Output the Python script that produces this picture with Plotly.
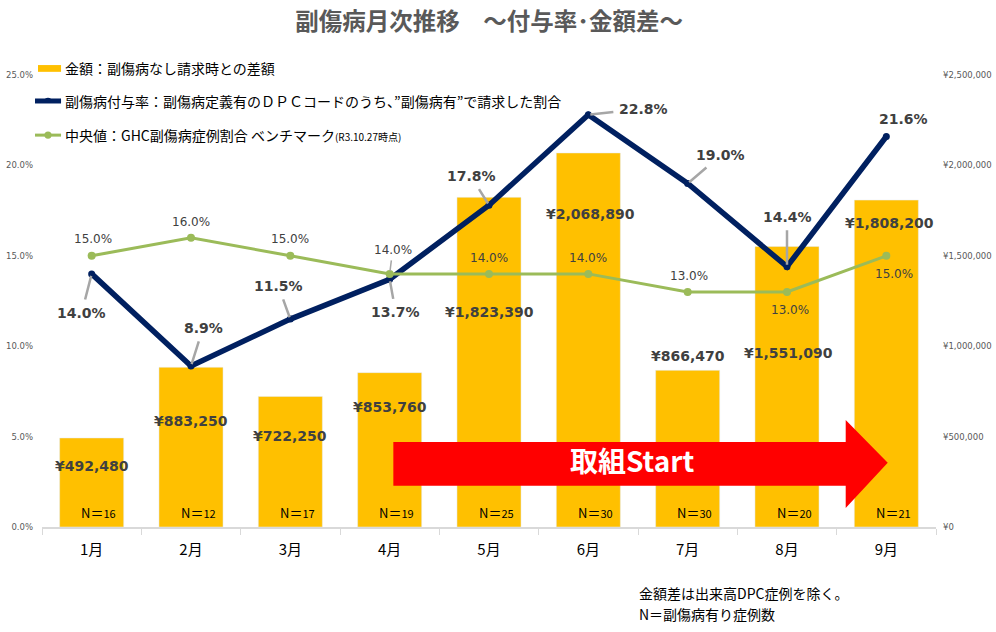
import plotly.graph_objects as go

months = ["1月", "2月", "3月", "4月", "5月", "6月", "7月", "8月", "9月"]
amount_diff = [492480, 883250, 722250, 853760, 1823390, 2068890, 866470, 1551090, 1808200]
rate = [14.0, 8.9, 11.5, 13.7, 17.8, 22.8, 19.0, 14.4, 21.6]
benchmark = [15.0, 16.0, 15.0, 14.0, 14.0, 14.0, 13.0, 13.0, 15.0]
n_cases = [16, 12, 17, 19, 25, 30, 30, 20, 21]

legend_names = [
    "金額：副傷病なし請求時との差額",
    "副傷病付与率：副傷病定義有のＤＰＣコードのうち、”副傷病有”で請求した割合",
    "中央値：GHC副傷病症例割合 ベンチマーク<span style='font-size:10px'>(R3.10.27時点)</span>",
]

# label offsets (pixels) for readability, like the original chart
rate_off = [(-10, 39), (12, -38), (-12, -33), (6, 33), (-18, -29), (55, -6), (33, -28), (0, -50), (17, -17)]
rate_arrow = [True, True, True, True, True, True, True, True, False]
bench_off = [(1, -17), (0, -16), (0, -17), (3, -24), (0, -16), (0, -16), (1, -16), (3, 18), (8, 18)]
bench_arrow = [False, False, False, True, False, False, False, False, False]
bar_lab_shift = [-28, -54, -40, -34, -115, -61, 14, -106, -23]
bar_lab_x = [0, 0, 0, 0, 0.01, 0.02, 0, 0.02, 0.03]

NUMFONT = "DejaVu Sans"
JPFONT = "Noto Sans CJK JP"
LABEL = "#404040"
BAR = "#FFC000"
NAVY = "#002060"
GREEN = "#9BBB59"

fig = go.Figure()
fig.add_trace(go.Bar(x=months, y=amount_diff, yaxis="y", marker_color=BAR,
                     name=legend_names[0], showlegend=False))
fig.add_trace(go.Scatter(x=months, y=rate, yaxis="y2", mode="lines+markers",
                         line=dict(color=NAVY, width=5.5), marker=dict(size=7, color=NAVY),
                         name=legend_names[1], showlegend=False))
fig.add_trace(go.Scatter(x=months, y=benchmark, yaxis="y2", mode="lines+markers",
                         line=dict(color=GREEN, width=3), marker=dict(size=8, color=GREEN),
                         name=legend_names[2], showlegend=False))

ann = []
for i, m in enumerate(months):
    ax, ay = rate_off[i]
    ann.append(dict(x=m, y=rate[i], xref="x", yref="y2", text=f"<b>{rate[i]:.1f}%</b>",
                    showarrow=True, arrowhead=0, arrowwidth=2.5,
                    arrowcolor="#A6A6A6" if rate_arrow[i] else "rgba(0,0,0,0)",
                    ax=ax, ay=ay, standoff=2, startstandoff=4,
                    font=dict(family=NUMFONT, size=14, color=LABEL)))
    bx, by = bench_off[i]
    ann.append(dict(x=m, y=benchmark[i], xref="x", yref="y2", text=f"{benchmark[i]:.1f}%",
                    showarrow=True, arrowhead=0, arrowwidth=1.5,
                    arrowcolor="#A6A6A6" if bench_arrow[i] else "rgba(0,0,0,0)",
                    ax=bx, ay=by, standoff=3, startstandoff=2,
                    font=dict(family=NUMFONT, size=12, color=LABEL)))
    ann.append(dict(x=i + bar_lab_x[i], y=amount_diff[i], xref="x", yref="y",
                    text=f"<b>¥{amount_diff[i]:,}</b>", showarrow=False, yshift=bar_lab_shift[i],
                    font=dict(family=NUMFONT, size=14, color=LABEL)))
    ann.append(dict(x=i, y=0, xref="x", yref="y", yanchor="bottom", yshift=3, xshift=7,
                    text=f"<span style='font-size:13px'>N＝</span>{n_cases[i]}", showarrow=False,
                    font=dict(family=JPFONT, size=11, color="#000000")))

# legend (drawn manually to match the original's wide symbols and spacing)
leg_y = [1.0155, 0.9425, 0.867]
for name, ly in zip(legend_names, leg_y):
    ann.append(dict(x=0.0235, y=ly, xref="paper", yref="paper", xanchor="left", yanchor="middle",
                    text=name, showarrow=False, font=dict(family=JPFONT, size=14, color="#000000")))

ann.append(dict(x=0.66, y=0.142, xref="paper", yref="paper", text="<b>取組Start</b>", yshift=-19,
                showarrow=False, font=dict(family=JPFONT, size=28, color="white")))
ann.append(dict(x=0.666, y=-0.152, xref="paper", yref="paper", xanchor="left", yshift=-9,
                text="金額差は出来高DPC症例を除く。", showarrow=False,
                font=dict(family=JPFONT, size=14, color="#000000")))
ann.append(dict(x=0.666, y=-0.197, xref="paper", yref="paper", xanchor="left", yshift=-10,
                text="N＝副傷病有り症例数", showarrow=False,
                font=dict(family=JPFONT, size=14, color="#000000")))

arrow_path = ("M 0.393 0.188 L 0.899 0.188 L 0.899 0.237 L 0.946 0.142 "
              "L 0.899 0.042 L 0.899 0.091 L 0.393 0.091 Z")

shapes = [
    dict(type="path", path=arrow_path, xref="paper", yref="paper",
         fillcolor="#FF0000", line=dict(width=0), layer="above"),
    dict(type="rect", x0=-0.0045, x1=0.0213, y0=1.007, y1=1.022, xref="paper", yref="paper",
         fillcolor=BAR, line=dict(width=0)),
    dict(type="line", x0=-0.0078, x1=0.0213, y0=leg_y[1], y1=leg_y[1], xref="paper", yref="paper",
         line=dict(color=NAVY, width=5)),
    dict(type="circle", x0=0.0067 - 0.0035, x1=0.0067 + 0.0035, y0=leg_y[1] - 0.004, y1=leg_y[1] + 0.007,
         xref="paper", yref="paper", fillcolor=NAVY, line=dict(width=0)),
    dict(type="line", x0=-0.0078, x1=0.0213, y0=leg_y[2], y1=leg_y[2], xref="paper", yref="paper",
         line=dict(color=GREEN, width=3)),
    dict(type="circle", x0=0.0067 - 0.004, x1=0.0067 + 0.004, y0=leg_y[2] - 0.008, y1=leg_y[2] + 0.008,
         xref="paper", yref="paper", fillcolor=GREEN, line=dict(width=0)),
]

fig.update_layout(
    width=996, height=632,
    margin=dict(l=42, r=60, t=75, b=105),
    paper_bgcolor="white", plot_bgcolor="white",
    showlegend=False,
    title=dict(text="<b>副傷病月次推移　～付与率･金額差～</b>", x=0.491, xanchor="center",
               y=0.965, yanchor="middle",
               font=dict(family=JPFONT, size=23.5, color="#595959")),
    bargap=0.355,
    xaxis=dict(type="category", showline=True, linecolor="#D9D9D9", linewidth=1.5,
               ticks="outside", tickson="boundaries", ticklen=6, tickcolor="#D9D9D9",
               tickfont=dict(family=JPFONT, size=15, color="#000000"), showgrid=False,
               range=[-0.5, 8.5], ticklabelstandoff=8, automargin=False),
    yaxis=dict(side="right", range=[0, 2500000], dtick=500000, tickprefix="¥", tickformat=",",
               showgrid=False, zeroline=False, ticks="", ticklabelstandoff=6, automargin=False,
               tickfont=dict(family=NUMFONT, size=8.5, color="#595959")),
    yaxis2=dict(side="left", overlaying="y", range=[0, 25], dtick=5, ticksuffix="%",
                tickformat=".1f", showgrid=False, zeroline=False, ticks="", ticklabelstandoff=8,
                automargin=False,
                tickfont=dict(family=NUMFONT, size=8.5, color="#595959")),
    annotations=ann,
    shapes=shapes,
)

fig.write_html("out.html", config={"displayModeBar": False},
               post_script="document.body.style.margin='0';document.body.style.overflow='hidden';")
